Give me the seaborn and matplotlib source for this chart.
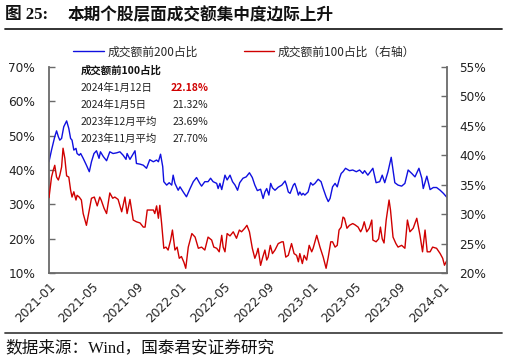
import matplotlib
matplotlib.use("Agg")
import matplotlib.pyplot as plt
import matplotlib.dates as mdates
from matplotlib.lines import Line2D
from matplotlib.ticker import FuncFormatter
import seaborn as sns
import pandas as pd

# ---------------- data ----------------
blue_dates = [
    "2021-01-01", "2021-01-08", "2021-01-17", "2021-01-22", "2021-01-27", "2021-01-31", "2021-02-05",
    "2021-02-11", "2021-02-19", "2021-02-25", "2021-03-02", "2021-03-06", "2021-03-11", "2021-03-17",
    "2021-03-20", "2021-03-26", "2021-03-30", "2021-04-06", "2021-04-15", "2021-04-23", "2021-04-29",
    "2021-05-06", "2021-05-13", "2021-05-20", "2021-05-24", "2021-06-01", "2021-06-10", "2021-06-19",
    "2021-06-28", "2021-07-08", "2021-07-17", "2021-07-26", "2021-08-03", "2021-08-06", "2021-08-14",
    "2021-08-28", "2021-09-01", "2021-09-11", "2021-09-20", "2021-09-29", "2021-10-08", "2021-10-18",
    "2021-10-27", "2021-11-01", "2021-11-07", "2021-11-13", "2021-11-16", "2021-11-24", "2021-12-01",
    "2021-12-08", "2021-12-12", "2021-12-17", "2021-12-26", "2021-12-31", "2022-01-09", "2022-01-18",
    "2022-01-28", "2022-02-06", "2022-02-15", "2022-02-24", "2022-03-01", "2022-03-10", "2022-03-19",
    "2022-03-26", "2022-04-02", "2022-04-12", "2022-04-16", "2022-04-21", "2022-04-26", "2022-05-05",
    "2022-05-11", "2022-05-19", "2022-05-26", "2022-06-02", "2022-06-09", "2022-06-15", "2022-06-24",
    "2022-07-03", "2022-07-12", "2022-07-20", "2022-07-27", "2022-08-03", "2022-08-12", "2022-08-19",
    "2022-08-24", "2022-08-29", "2022-09-04", "2022-09-09", "2022-09-14", "2022-09-21", "2022-09-30",
    "2022-10-10", "2022-10-19", "2022-10-23", "2022-10-28", "2022-11-02", "2022-11-11", "2022-11-15",
    "2022-11-20", "2022-11-25", "2022-11-29", "2022-12-04", "2022-12-08", "2022-12-13", "2022-12-22",
    "2022-12-29", "2023-01-04", "2023-01-10", "2023-01-19", "2023-01-27", "2023-02-02", "2023-02-10",
    "2023-02-16", "2023-02-21", "2023-02-28", "2023-03-07", "2023-03-13", "2023-03-20", "2023-03-24",
    "2023-03-29", "2023-04-05", "2023-04-16", "2023-04-25", "2023-05-05", "2023-05-14", "2023-05-23",
    "2023-05-28", "2023-06-06", "2023-06-20", "2023-06-29", "2023-07-09", "2023-07-16", "2023-07-23",
    "2023-08-01", "2023-08-10", "2023-08-15", "2023-08-20", "2023-08-29", "2023-09-08", "2023-09-17",
    "2023-09-26", "2023-10-06", "2023-10-15", "2023-10-26", "2023-11-03", "2023-11-07", "2023-11-17",
    "2023-11-26", "2023-12-05", "2023-12-14", "2023-12-24", "2024-01-02", "2024-01-12",
]
top200 = [
    42.4, 45.8, 49.7, 51.4, 49.7, 48.7, 49.2,
    52.6, 54.3, 52.1, 49.2, 48.7, 45.8, 46.3,
    44.8, 44.3, 44.8, 43.4, 41.4, 39.5, 42.4,
    44.8, 45.6, 43.4, 45.3, 43.9, 42.7, 45.3,
    44.8, 45.0, 45.3, 44.3, 43.1, 44.8, 43.1,
    45.6, 41.9, 41.7, 41.4, 40.5, 43.0, 42.4,
    42.9, 42.4, 44.6, 41.0, 36.6, 35.6, 36.3,
    35.6, 38.5, 36.1, 34.1, 35.1, 33.6, 32.2,
    34.6, 36.6, 37.8, 36.1, 35.3, 36.6, 36.6,
    37.6, 36.6, 36.1, 34.6, 36.1, 34.3, 38.5,
    37.1, 38.5, 36.6, 35.6, 34.1, 36.3, 37.6,
    38.0, 39.2, 37.8, 35.6, 34.0, 34.4, 31.7,
    33.6, 34.6, 32.7, 36.1, 34.8, 34.1, 35.0,
    35.6, 36.8, 35.6, 33.6, 33.2, 35.6, 36.1,
    34.6, 32.7, 33.6, 32.7, 33.2, 32.7, 33.6,
    36.3, 35.6, 36.1, 37.3, 36.6, 34.6, 32.2,
    30.8, 31.7, 35.1, 36.1, 35.1, 37.8, 39.0,
    39.5, 40.5, 39.8, 40.0, 39.5, 40.0, 39.0,
    39.8, 38.5, 40.5, 36.3, 36.6, 38.5, 36.3,
    39.5, 43.7, 40.0, 36.3, 35.6, 35.3, 36.1,
    40.0, 39.0, 38.0, 40.5, 37.6, 34.6, 38.2,
    34.3, 34.9, 34.9, 34.1, 33.2, 32.0,
]

red_dates = [
    "2021-01-01", "2021-01-08", "2021-01-13", "2021-01-17", "2021-01-22", "2021-01-27", "2021-01-31",
    "2021-02-05", "2021-02-09", "2021-02-14", "2021-02-19", "2021-02-25", "2021-03-02", "2021-03-06",
    "2021-03-11", "2021-03-17", "2021-03-20", "2021-03-26", "2021-04-01", "2021-04-06", "2021-04-15",
    "2021-04-23", "2021-04-29", "2021-05-07", "2021-05-15", "2021-05-22", "2021-05-26", "2021-06-03",
    "2021-06-10", "2021-06-19", "2021-06-27", "2021-07-03", "2021-07-12", "2021-07-22", "2021-07-31",
    "2021-08-06", "2021-08-14", "2021-08-23", "2021-09-01", "2021-09-11", "2021-09-20", "2021-09-25",
    "2021-10-01", "2021-10-08", "2021-10-18", "2021-10-22", "2021-10-27", "2021-11-01", "2021-11-05",
    "2021-11-10", "2021-11-16", "2021-11-22", "2021-11-28", "2021-12-05", "2021-12-10", "2021-12-17",
    "2021-12-23", "2021-12-29", "2022-01-04", "2022-01-11", "2022-01-16", "2022-01-23", "2022-02-02",
    "2022-02-11", "2022-02-20", "2022-03-01", "2022-03-10", "2022-03-19", "2022-03-29", "2022-04-04",
    "2022-04-12", "2022-04-19", "2022-04-26", "2022-04-30", "2022-05-05", "2022-05-11", "2022-05-19",
    "2022-05-28", "2022-06-06", "2022-06-14", "2022-06-20", "2022-06-29", "2022-07-05", "2022-07-12",
    "2022-07-20", "2022-07-27", "2022-08-01", "2022-08-05", "2022-08-12", "2022-08-18", "2022-08-24",
    "2022-08-29", "2022-09-02", "2022-09-08", "2022-09-14", "2022-09-21", "2022-09-30", "2022-10-10",
    "2022-10-14", "2022-10-21", "2022-10-28", "2022-11-06", "2022-11-13", "2022-11-20", "2022-11-25",
    "2022-11-29", "2022-12-06", "2022-12-11", "2022-12-18", "2022-12-25", "2023-01-01", "2023-01-05",
    "2023-01-15", "2023-01-24", "2023-02-02", "2023-02-10", "2023-02-16", "2023-02-23", "2023-02-28",
    "2023-03-07", "2023-03-13", "2023-03-18", "2023-03-24", "2023-03-29", "2023-04-02", "2023-04-09",
    "2023-04-16", "2023-04-25", "2023-05-01", "2023-05-10", "2023-05-17", "2023-05-22", "2023-05-27",
    "2023-06-03", "2023-06-10", "2023-06-17", "2023-06-20", "2023-06-29", "2023-07-06", "2023-07-11",
    "2023-07-16", "2023-07-21", "2023-07-27", "2023-08-04", "2023-08-08", "2023-08-15", "2023-08-23",
    "2023-08-29", "2023-09-08", "2023-09-17", "2023-09-24", "2023-10-01", "2023-10-10", "2023-10-20",
    "2023-10-29", "2023-11-05", "2023-11-12", "2023-11-18", "2023-11-26", "2023-12-03", "2023-12-14",
    "2023-12-24", "2023-12-31", "2024-01-05", "2024-01-12",
]
top100 = [
    32.8, 36.3, 37.5, 38.3, 36.3, 35.8, 36.6,
    38.0, 41.2, 39.5, 36.5, 36.3, 34.1, 32.9,
    33.8, 32.4, 33.2, 32.9, 32.4, 30.1, 28.1,
    30.7, 32.7, 32.9, 31.4, 32.9, 32.4, 31.0,
    30.1, 33.6, 32.7, 32.9, 32.5, 30.4, 32.9,
    30.1, 32.5, 29.0, 28.7, 28.5, 27.8, 27.8,
    30.7, 30.7, 30.7, 30.1, 31.4, 29.3, 31.5,
    28.4, 24.2, 24.4, 23.9, 25.6, 27.3, 23.9,
    24.4, 22.5, 22.8, 21.8, 20.8, 24.4, 26.7,
    26.1, 24.2, 24.4, 23.9, 26.1, 25.6, 24.4,
    24.2, 23.6, 26.4, 24.4, 23.6, 26.7, 26.3,
    27.0, 25.9, 27.3, 27.0, 27.6, 28.1, 27.0,
    24.2, 22.5, 23.3, 24.2, 21.3, 22.7, 23.9,
    22.2, 22.7, 24.7, 23.3, 23.9, 25.0, 25.3,
    25.3, 22.7, 23.0, 25.0, 23.3, 23.0, 21.9,
    23.3, 21.6, 23.0, 22.2, 24.7, 23.6, 24.2,
    26.4, 24.4, 22.7, 20.8, 22.7, 25.3, 25.3,
    24.4, 24.7, 27.3, 27.8, 29.5, 29.3, 27.6,
    28.1, 28.4, 28.2, 27.8, 27.0, 27.6, 28.7,
    27.0, 27.6, 29.0, 25.6, 25.3, 25.8, 27.8,
    25.8, 25.1, 29.0, 32.4, 30.7, 26.1, 25.0,
    24.4, 24.7, 24.2, 29.0, 27.0, 27.6, 29.3,
    26.4, 23.6, 27.3, 23.6, 23.6, 24.4, 24.2,
    23.3, 22.5, 21.32, 22.18,
]

left_ticks = [10, 20, 30, 40, 50, 60, 70]
right_ticks = [20, 25, 30, 35, 40, 45, 50, 55]

title_label = "图 25:"
title_text = "本期个股层面成交额集中度边际上升"
source_text = "数据来源：Wind，国泰君安证券研究"
label_200 = "成交额前200占比"
label_100 = "成交额前100占比（右轴）"

table_title = "成交额前100占比"
table_rows = ["2024年1月12日", "2024年1月5日", "2023年12月平均", "2023年11月平均"]
table_vals = ["22.18%", "21.32%", "23.69%", "27.70%"]

# ---------------- style ----------------
sns.set_style("white")
plt.rcParams["font.family"] = ["DejaVu Sans", "Noto Sans CJK SC"]
plt.rcParams["axes.unicode_minus"] = False

BLUE = "#1010E0"
RED = "#D00000"
SPINE = "#6a6a6a"

df_b = pd.DataFrame({"date": pd.to_datetime(blue_dates), "v": top200})
df_r = pd.DataFrame({"date": pd.to_datetime(red_dates), "v": top100})

fig = plt.figure(figsize=(5.07, 3.63), dpi=100)
ax = fig.add_axes([49 / 507, 1 - 273 / 363, 398 / 507, 206 / 363])
ax2 = ax.twinx()

sns.lineplot(data=df_b, x="date", y="v", ax=ax, color=BLUE, linewidth=1.0)
sns.lineplot(data=df_r, x="date", y="v", ax=ax2, color=RED, linewidth=1.0)

ax.set_ylim(10, 70)
ax2.set_ylim(20, 55)
ax.set_yticks(left_ticks)
ax2.set_yticks(right_ticks)
pct = FuncFormatter(lambda v, p: f"{v:.0f}%")
ax.yaxis.set_major_formatter(pct)
ax2.yaxis.set_major_formatter(pct)

ax.set_xlim(pd.Timestamp("2021-01-01"), pd.Timestamp("2024-01-12"))
ax.xaxis.set_major_locator(mdates.MonthLocator(bymonth=[1, 5, 9]))
ax.xaxis.set_major_formatter(mdates.DateFormatter("%Y-%m"))

for a in (ax, ax2):
    a.set_xlabel("")
    a.set_ylabel("")
    a.spines["top"].set_visible(False)
    for s in ("left", "right", "bottom"):
        a.spines[s].set_color(SPINE)
        a.spines[s].set_linewidth(1.3)
    a.tick_params(axis="both", direction="in", length=4, width=1.0, color=SPINE,
                  labelsize=8.7, labelcolor="#222222")
ax.spines["right"].set_visible(False)
ax2.spines["left"].set_visible(False)
ax2.spines["bottom"].set_visible(False)

for lbl in ax.get_xticklabels():
    lbl.set_rotation(45)
    lbl.set_ha("right")
    lbl.set_rotation_mode("anchor")
ax.tick_params(axis="x", pad=5)
ax.tick_params(axis="y", pad=10)
ax2.tick_params(axis="y", pad=9)

# inset table
tx0 = (81 - 49) / 398
tx1 = (171 - 49) / 398
ax.text(tx0, (273 - 71) / 206, table_title, transform=ax.transAxes, fontsize=7.5,
        fontweight="bold", va="center", ha="left", color="#111111",
        family=["Noto Sans CJK SC"])
row_y = [87.7, 105, 121.7, 139]
for i, (r, v) in enumerate(zip(table_rows, table_vals)):
    yy = (273 - row_y[i]) / 206
    ax.text(tx0, yy, r, transform=ax.transAxes, fontsize=7.5, va="center", ha="left",
            color="#222222", family=["Noto Sans CJK SC"])
    ax.text(tx1 + (0 if i == 0 else 0.003), yy, v, transform=ax.transAxes, fontsize=7.5,
            va="center", ha="left",
            color=(RED if i == 0 else "#222222"),
            fontweight=("bold" if i == 0 else "normal"), family=["Noto Sans CJK SC"])

# legend
handles = [Line2D([], [], color=BLUE, lw=1.0), Line2D([], [], color=RED, lw=1.0)]
fig.legend(handles, [label_200, label_100], loc="center", bbox_to_anchor=(244 / 507, 1 - 52 / 363),
           ncol=2, frameon=False, handlelength=2.6, handletextpad=0.3,
           columnspacing=3.9, prop={"family": ["Noto Sans CJK SC"], "size": 8.5})

# title and rules
fig.text(5 / 507, 1 - 15 / 363, title_label, fontsize=12, fontweight="bold", va="center",
         ha="left", family=["Liberation Serif", "Noto Sans CJK SC"], color="#111111")
fig.text(68 / 507, 1 - 15 / 363, title_text, fontsize=12, fontweight="bold", va="center",
         ha="left", family=["Noto Sans CJK SC"], color="#111111")
fig.add_artist(Line2D([5 / 507, 502 / 507], [1 - 29 / 363, 1 - 29 / 363], color="#222222",
                      lw=1.3, transform=fig.transFigure))
fig.add_artist(Line2D([5 / 507, 502 / 507], [1 - 333 / 363, 1 - 333 / 363], color="#444444",
                      lw=1.3, transform=fig.transFigure))
fig.text(5 / 507, 1 - 348 / 363, source_text, fontsize=12, va="center", ha="left",
         family=["Liberation Serif", "Noto Sans CJK SC"], color="#111111")

fig.savefig("out.png", dpi=100)
